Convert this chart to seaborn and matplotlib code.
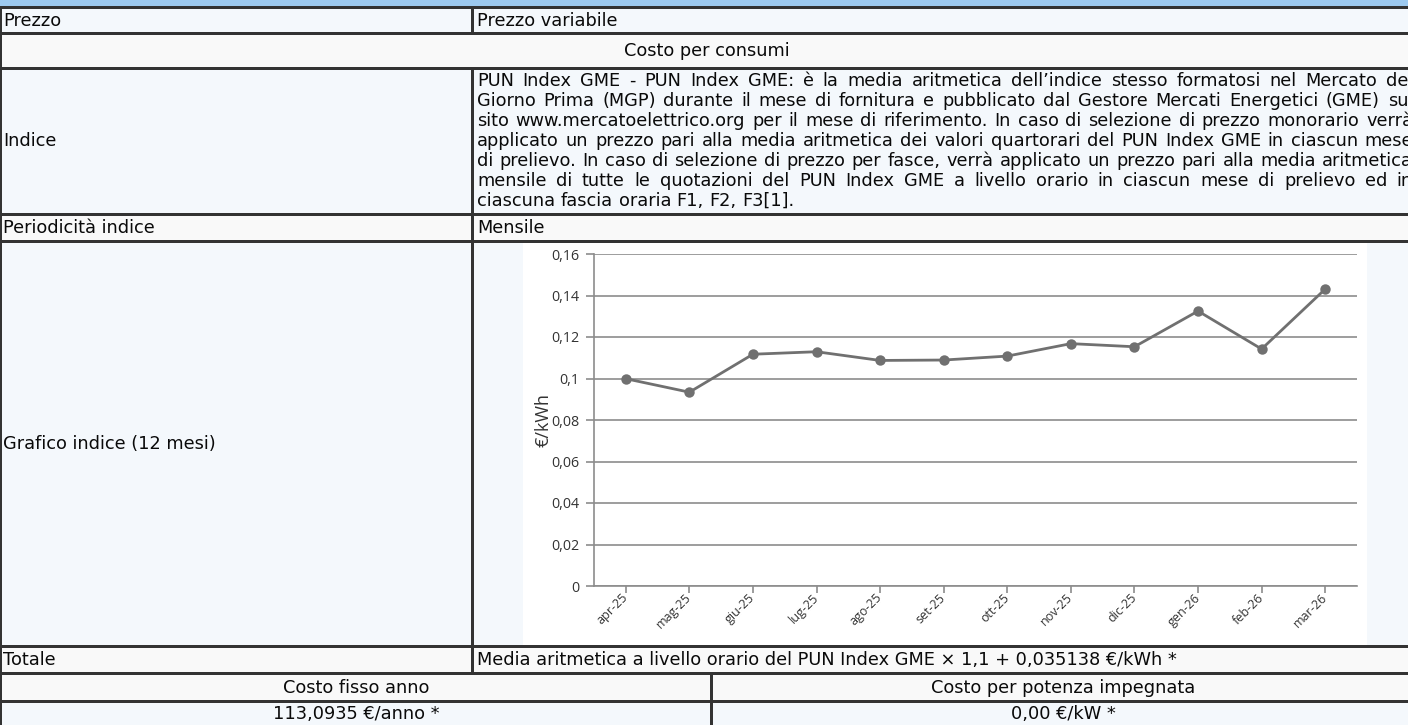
import matplotlib
matplotlib.use("Agg")
import matplotlib.pyplot as plt
import seaborn as sns
import pandas as pd
from matplotlib.patches import Rectangle

# ---------------- data ----------------
months = ["apr-25", "mag-25", "giu-25", "lug-25", "ago-25", "set-25",
          "ott-25", "nov-25", "dic-25", "gen-26", "feb-26", "mar-26"]
pun_values = [0.0999, 0.0934, 0.1117, 0.1129, 0.1087, 0.1089,
              0.1108, 0.1168, 0.1153, 0.1325, 0.1142, 0.1431]
y_ticks = [0, 0.02, 0.04, 0.06, 0.08, 0.10, 0.12, 0.14, 0.16]
y_tick_labels = ["0", "0,02", "0,04", "0,06", "0,08", "0,1", "0,12", "0,14", "0,16"]
y_label = "€/kWh"

label_prezzo = "Prezzo"
value_prezzo = "Prezzo variabile"
section_title = "Costo per consumi"
label_indice = "Indice"
indice_lines = [
    "PUN Index GME - PUN Index GME: è la media aritmetica dell’indice stesso formatosi nel Mercato del",
    "Giorno Prima (MGP) durante il mese di fornitura e pubblicato dal Gestore Mercati Energetici (GME) sul",
    "sito www.mercatoelettrico.org per il mese di riferimento. In caso di selezione di prezzo monorario verrà",
    "applicato un prezzo pari alla media aritmetica dei valori quartorari del PUN Index GME in ciascun mese",
    "di prelievo. In caso di selezione di prezzo per fasce, verrà applicato un prezzo pari alla media aritmetica",
    "mensile di tutte le quotazioni del PUN Index GME a livello orario in ciascun mese di prelievo ed in",
    "ciascuna fascia oraria F1, F2, F3[1].",
]
label_periodicita = "Periodicità indice"
value_periodicita = "Mensile"
label_grafico = "Grafico indice (12 mesi)"
label_totale = "Totale"
value_totale = "Media aritmetica a livello orario del PUN Index GME × 1,1 + 0,035138 €/kWh *"
bottom_headers = ["Costo fisso anno", "Costo per potenza impegnata"]
bottom_values = ["113,0935 €/anno *", "0,00 €/kW *"]

# ---------------- style ----------------
sns.set_theme(style="white")
plt.rcParams["font.family"] = ["DejaVu Sans"]

W, H = 1408, 725
fig = plt.figure(figsize=(W / 100, H / 100), dpi=100)
fig.patch.set_facecolor("white")
bg = fig.add_axes([0, 0, 1, 1])
bg.set_xlim(0, W)
bg.set_ylim(H, 0)
bg.axis("off")

BLUE = "#f4f8fc"
GRAY = "#f9f9f9"
BORDER = "#333333"
HEAD = "#9dcaf0"
TXT = "#0a0a0a"
FS = 12.8
COL = 471
RIGHT = 1413


def rect(x0, y0, x1, y1, color, z=1):
    bg.add_patch(Rectangle((x0, y0), x1 - x0, y1 - y0, facecolor=color,
                           edgecolor="none", lw=0, zorder=z))


rect(0, 0, W, 6, HEAD)
for y0, y1, c in [(9, 32, BLUE), (35, 67, GRAY), (70, 213, BLUE), (216, 240, GRAY),
                  (243, 645, BLUE), (648, 672, GRAY), (675, 700, GRAY), (703, 725, BLUE)]:
    rect(0, y0, W, y1, c)

# chart image background
rect(523, 243, 1367, 645, "white", z=1.5)

# borders
for yb, th in [(6, 3), (32, 3), (67, 3), (213, 3), (240, 3), (645, 3), (672, 3), (700, 3)]:
    rect(0, yb, W, yb + th, BORDER, z=3)
rect(0, 6, 2, H, BORDER, z=3)
rect(COL, 6, COL + 3, 35, BORDER, z=3)
rect(COL, 67, COL + 3, 675, BORDER, z=3)
rect(710, 672, 713, H, BORDER, z=3)


def t(x, y, s, ha="left", **kw):
    bg.text(x, y, s, ha=ha, va="center", fontsize=FS, color=TXT, zorder=4, **kw)


t(3, 20.5, label_prezzo)
t(477, 20.5, value_prezzo)
t(RIGHT / 2, 51, section_title, ha="center")
t(3, 141, label_indice)
t(3, 228, label_periodicita)
t(477, 228, value_periodicita)
t(3, 444, label_grafico)
t(3, 660, label_totale)
t(477, 660, value_totale)
t(356, 688, bottom_headers[0], ha="center")
t(1063, 688, bottom_headers[1], ha="center")
t(356, 714, bottom_values[0], ha="center")
t(1063, 714, bottom_values[1], ha="center")

# justified paragraph
renderer = fig.canvas.get_renderer()
probe1 = bg.text(0, 0, "a a", fontsize=FS)
probe2 = bg.text(0, 0, "aa", fontsize=FS)
space_w = probe1.get_window_extent(renderer).width - probe2.get_window_extent(renderer).width
probe1.remove()
probe2.remove()

y_first, line_h = 80.5, 20
for i, line in enumerate(indice_lines):
    y = y_first + i * line_h
    words = line.split(" ")
    objs = [bg.text(0, y, w, ha="left", va="center", fontsize=FS, color=TXT, zorder=4)
            for w in words]
    widths = [o.get_window_extent(renderer).width for o in objs]
    last = i == len(indice_lines) - 1
    gap = space_w if last else max(space_w, (RIGHT - 477 - sum(widths)) / (len(words) - 1))
    x = 477
    for o, w in zip(objs, widths):
        o.set_x(x)
        o.set_clip_on(True)
        x += w + gap

# ---------------- chart ----------------
L, R, TOP, BOT = 594, 1357, 254, 586
ax = fig.add_axes([L / W, 1 - BOT / H, (R - L) / W, (BOT - TOP) / H])
ax.set_facecolor("none")
df = pd.DataFrame({"mese": months, "valore": pun_values})
LINEC = "#707070"
GRID = "#8c8c8c"
sns.lineplot(data=df, x="mese", y="valore", ax=ax, sort=False, color=LINEC,
             linewidth=2, marker="o", markersize=7.5, markeredgewidth=0, zorder=5)
ax.set_xlim(-0.5, len(months) - 0.5)
ax.set_ylim(0, 0.16)
ax.set_yticks(y_ticks)
ax.set_yticklabels(y_tick_labels, fontfamily="Open Sans")
ax.grid(axis="y", color=GRID, linewidth=1.2)
ax.grid(axis="x", visible=False)
ax.set_axisbelow(True)
for s in ["top", "right"]:
    ax.spines[s].set_visible(False)
for s in ["left", "bottom"]:
    ax.spines[s].set_color(GRID)
    ax.spines[s].set_linewidth(1.2)
ax.tick_params(axis="y", left=True, length=6, width=1.2, color=GRID,
               labelsize=10.3, labelcolor="#333333", pad=4.3)
ax.tick_params(axis="x", bottom=True, length=5, width=1.2, color=GRID,
               labelsize=9, labelcolor="#333333", pad=2)
for lab in ax.get_xticklabels():
    lab.set_rotation(45)
    lab.set_ha("right")
    lab.set_va("center")
    lab.set_rotation_mode("anchor")
    lab.set_fontfamily("Open Sans")
ax.set_xlabel("")
ax.set_ylabel(y_label, fontsize=13, color="#333333", fontfamily="Open Sans")
ax.yaxis.set_label_coords(-0.055, 0.5)

fig.savefig("out.png", dpi=100, facecolor="white")
